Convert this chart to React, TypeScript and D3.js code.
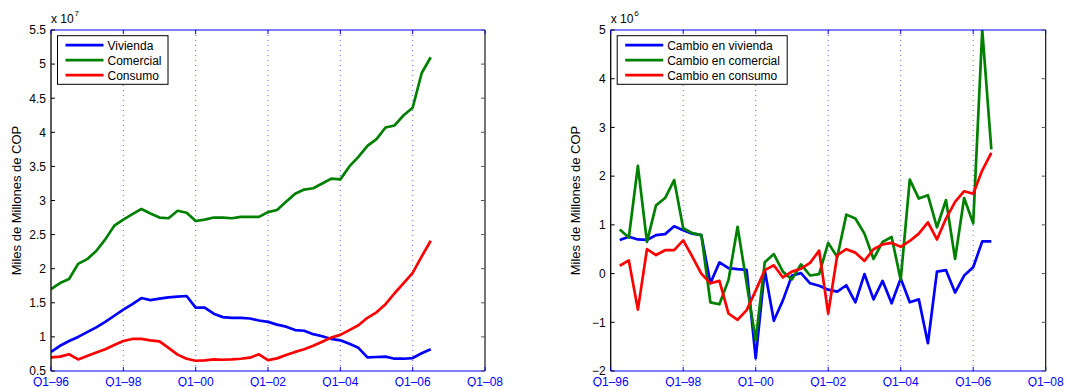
import React, { useMemo } from "react"
import * as d3 from "d3"

const FONT = "'Liberation Sans', Arial, Helvetica, sans-serif"

// x axis: one tick every two years, labels as in the original
const xTickYears = [1996, 1998, 2000, 2002, 2004, 2006, 2008]
const xTickLabels = ["Q1–96", "Q1–98", "Q1–00", "Q1–02", "Q1–04", "Q1–06", "Q1–08"]

// left panel, stocks in x 10^7 (quarterly from Q1-96 to Q3-06)
const vivienda = [
  0.78, 0.87, 0.94, 1.0, 1.07, 1.14, 1.22, 1.31, 1.4, 1.48, 1.57, 1.54, 1.56, 1.58, 1.59, 1.6, 1.43, 1.43, 1.34,
  1.29, 1.28, 1.28, 1.27, 1.24, 1.22, 1.18, 1.15, 1.1, 1.09, 1.04, 1.01, 0.97, 0.95, 0.9, 0.84, 0.7, 0.705, 0.71,
  0.68, 0.68, 0.69, 0.76, 0.82,
]
const comercial = [
  1.7, 1.79, 1.85, 2.07, 2.14, 2.26, 2.43, 2.63, 2.72, 2.8, 2.875, 2.81, 2.75, 2.74, 2.85, 2.82, 2.7, 2.72, 2.75,
  2.75, 2.74, 2.76, 2.76, 2.76, 2.83, 2.86, 2.98, 3.1, 3.16, 3.18, 3.25, 3.32, 3.31, 3.5, 3.64, 3.8, 3.9, 4.07, 4.1,
  4.25, 4.36, 4.87, 5.1,
]
const consumo = [
  0.7, 0.71, 0.745, 0.67, 0.72, 0.77, 0.82, 0.88, 0.94, 0.97, 0.97, 0.95, 0.935, 0.84, 0.74, 0.68, 0.65, 0.655, 0.67,
  0.665, 0.67, 0.68, 0.695, 0.745, 0.66, 0.685, 0.735, 0.78, 0.82, 0.87, 0.93, 0.99, 1.03, 1.1, 1.17, 1.28, 1.36,
  1.48, 1.64, 1.79, 1.94, 2.18, 2.41,
]

// right panel, quarterly changes in x 10^6 (from Q2-96 to Q3-06)
const cambioVivienda = [
  0.69, 0.755, 0.7, 0.69, 0.79, 0.81, 0.97, 0.89, 0.82, 0.79, -0.2, 0.23, 0.11, 0.09, 0.075, -1.74, 0.075, -0.97,
  -0.55, -0.04, 0.01, -0.2, -0.25, -0.33, -0.37, -0.24, -0.59, -0.01, -0.53, -0.15, -0.61, -0.1, -0.59, -0.53, -1.43,
  0.04, 0.07, -0.39, -0.04, 0.13, 0.66, 0.66,
]
const cambioComercial = [
  0.905, 0.74, 2.21, 0.65, 1.4, 1.55, 1.92, 0.93, 0.83, 0.79, -0.59, -0.63, -0.13, 0.96, -0.2, -1.37, 0.23, 0.4, 0.04,
  -0.12, 0.19, -0.04, -0.01, 0.63, 0.34, 1.21, 1.13, 0.82, 0.3, 0.65, 0.75, -0.13, 1.93, 1.54, 1.61, 0.95, 1.51, 0.3,
  1.55, 1.03, 5.0, 2.55,
]
const cambioConsumo = [
  0.16, 0.27, -0.74, 0.5, 0.38, 0.48, 0.48, 0.68, 0.35, 0.0, -0.2, -0.15, -0.82, -0.95, -0.75, -0.35, 0.07, 0.17,
  -0.08, 0.04, 0.1, 0.22, 0.47, -0.82, 0.38, 0.5, 0.43, 0.26, 0.5, 0.6, 0.63, 0.55, 0.67, 0.82, 1.05, 0.7, 1.13, 1.47,
  1.69, 1.64, 2.12, 2.48,
]

const leftTicks = [0.5, 1, 1.5, 2, 2.5, 3, 3.5, 4, 4.5, 5, 5.5]
const rightTicks = [-2, -1, 0, 1, 2, 3, 4, 5]

const BLUE = "#0000ff"
const GREEN = "#008000"
const RED = "#ff0000"

interface Series {
  name: string
  color: string
  values: number[]
  firstQuarter: number
}

interface PanelProps {
  id: string
  left: number
  right: number
  top: number
  bottom: number
  yDomain: [number, number]
  yTicks: number[]
  exponent: string
  series: Series[]
  legendWidth: number
}

const Panel: React.FC<PanelProps> = ({ id, left, right, top, bottom, yDomain, yTicks, exponent, series, legendWidth }) => {
  const xScale = useMemo(() => d3.scaleLinear().domain([1996, 2008]).range([left, right]), [left, right])
  const yScale = useMemo(() => d3.scaleLinear().domain(yDomain).range([bottom, top]), [yDomain, top, bottom])
  const fmt = d3.format("")

  const lineFor = (s: Series) =>
    d3
      .line<number>()
      .x((_, i) => xScale(1996 + (s.firstQuarter + i) / 4))
      .y((d) => yScale(d))(s.values) ?? ""

  const tickLen = 4
  const lgX = left + 6.5
  const lgY = 35.7

  return (
    <g fontFamily={FONT}>
      <defs>
        <clipPath id={id}>
          <rect x={left} y={top} width={right - left} height={bottom - top} />
        </clipPath>
      </defs>

      {/* dotted vertical grid */}
      {xTickYears.slice(1, -1).map((yr) => (
        <line
          key={yr}
          x1={xScale(yr)}
          x2={xScale(yr)}
          y1={top}
          y2={bottom}
          stroke="#3c3cff"
          strokeWidth={1}
          strokeDasharray="1 4"
          opacity={0.8}
        />
      ))}

      {/* data */}
      <g clipPath={`url(#${id})`}>
        {series.map((s) => (
          <path key={s.name} d={lineFor(s)} fill="none" stroke={s.color} strokeWidth={2.7} strokeLinejoin="round" />
        ))}
      </g>

      {/* axes box */}
      <line x1={left} x2={right} y1={bottom} y2={bottom} stroke={BLUE} strokeWidth={1.2} />
      <line x1={left} x2={right} y1={top} y2={top} stroke={BLUE} strokeWidth={1.2} />
      <line x1={left} x2={left} y1={top} y2={bottom} stroke="#000" strokeWidth={1.3} />
      <line x1={right} x2={right} y1={top} y2={bottom} stroke="#000" strokeWidth={1.1} />

      {/* x ticks and labels */}
      {xTickYears.map((yr, i) => (
        <g key={yr}>
          <line x1={xScale(yr)} x2={xScale(yr)} y1={bottom} y2={bottom - tickLen} stroke={BLUE} />
          <line x1={xScale(yr)} x2={xScale(yr)} y1={top} y2={top + tickLen} stroke={BLUE} />
          <text x={xScale(yr)} y={386} textAnchor="middle" fontSize={12} fill={BLUE}>
            {xTickLabels[i]}
          </text>
        </g>
      ))}

      {/* y ticks and labels */}
      {yTicks.map((t) => (
        <g key={t}>
          <line x1={left} x2={left + tickLen} y1={yScale(t)} y2={yScale(t)} stroke="#000" />
          <line x1={right} x2={right - tickLen} y1={yScale(t)} y2={yScale(t)} stroke="#555" />
          <text x={left - 5} y={yScale(t)} dy="0.36em" textAnchor="end" fontSize={12} fill="#000">
            {fmt(t)}
          </text>
        </g>
      ))}

      {/* exponent */}
      <text x={left} y={23} fontSize={12} fill="#000">
        x 10
      </text>
      <text x={left + 23.5} y={16} fontSize={8} fill="#000">
        {exponent}
      </text>

      {/* y label */}
      <text
        transform={`translate(${left - 30.5},${(top + bottom) / 2}) rotate(-90)`}
        textAnchor="middle"
        fontSize={13}
        fill="#000"
      >
        Miles de Millones de COP
      </text>

      {/* legend */}
      <rect x={lgX} y={lgY} width={legendWidth} height={48.6} fill="#fff" stroke="#000" strokeWidth={1} />
      {series.map((s, i) => {
        const ry = lgY + 9.5 + i * 15
        return (
          <g key={s.name}>
            <line x1={lgX + 8} x2={lgX + 46} y1={ry} y2={ry} stroke={s.color} strokeWidth={2.7} />
            <text x={lgX + 50} y={ry} dy="0.36em" fontSize={12} fill="#000">
              {s.name}
            </text>
          </g>
        )
      })}
    </g>
  )
}

export default function App() {
  const leftSeries: Series[] = [
    { name: "Vivienda", color: BLUE, values: vivienda, firstQuarter: 0 },
    { name: "Comercial", color: GREEN, values: comercial, firstQuarter: 0 },
    { name: "Consumo", color: RED, values: consumo, firstQuarter: 0 },
  ]
  const rightSeries: Series[] = [
    { name: "Cambio en vivienda", color: BLUE, values: cambioVivienda, firstQuarter: 1 },
    { name: "Cambio en comercial", color: GREEN, values: cambioComercial, firstQuarter: 1 },
    { name: "Cambio en consumo", color: RED, values: cambioConsumo, firstQuarter: 1 },
  ]

  return (
    <div style={{ position: "fixed", left: 0, top: 0, background: "#fff" }}>
      <svg width={1065} height={387} style={{ display: "block" }}>
        <rect width={1065} height={387} fill="#fff" />
        <Panel
          id="clip-left"
          left={51}
          right={485}
          top={30}
          bottom={371}
          yDomain={[0.5, 5.5]}
          yTicks={leftTicks}
          exponent="7"
          series={leftSeries}
          legendWidth={110.5}
        />
        <Panel
          id="clip-right"
          left={610.7}
          right={1045.7}
          top={30}
          bottom={371}
          yDomain={[-2, 5]}
          yTicks={rightTicks}
          exponent="6"
          series={rightSeries}
          legendWidth={170}
        />
      </svg>
    </div>
  )
}
